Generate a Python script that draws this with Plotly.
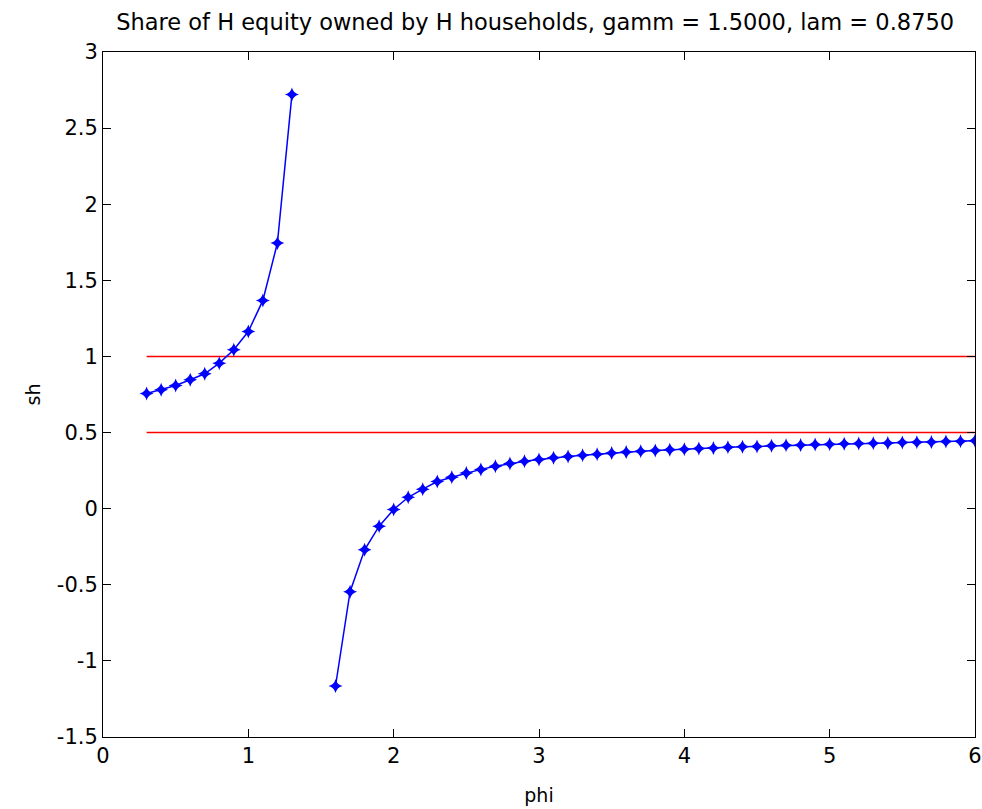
import plotly.graph_objects as go

phi_left = [0.3, 0.4, 0.5, 0.6, 0.7, 0.8, 0.9, 1.0, 1.1, 1.2, 1.3]
sh_left = [0.757, 0.781, 0.809, 0.847, 0.886, 0.956, 1.044, 1.164, 1.368, 1.745, 2.72]

phi_right = [1.6, 1.7, 1.8, 1.9, 2.0, 2.1, 2.2, 2.3, 2.4, 2.5, 2.6, 2.7, 2.8, 2.9,
             3.0, 3.1, 3.2, 3.3, 3.4, 3.5, 3.6, 3.7, 3.8, 3.9, 4.0, 4.1, 4.2, 4.3,
             4.4, 4.5, 4.6, 4.7, 4.8, 4.9, 5.0, 5.1, 5.2, 5.3, 5.4, 5.5, 5.6, 5.7,
             5.8, 5.9, 6.0]
sh_right = [-1.165, -0.545, -0.270, -0.115, -0.005, 0.075, 0.128, 0.178, 0.207, 0.234,
            0.258, 0.278, 0.297, 0.311, 0.323, 0.334, 0.343, 0.351, 0.358, 0.366,
            0.372, 0.377, 0.382, 0.387, 0.391, 0.395, 0.399, 0.403, 0.406, 0.409,
            0.413, 0.416, 0.418, 0.421, 0.423, 0.426, 0.428, 0.430, 0.432, 0.434,
            0.436, 0.438, 0.441, 0.443, 0.446]

ref_x = [0.3, 6.0]
ref_upper = [1.0, 1.0]
ref_lower = [0.5, 0.5]

x_ticks = [0, 1, 2, 3, 4, 5, 6]
y_ticks = [-1.5, -1, -0.5, 0, 0.5, 1, 1.5, 2, 2.5, 3]
y_tick_text = ["-1.5", "-1", "-0.5", "0", "0.5", "1", "1.5", "2", "2.5", "3"]

phi_all = phi_left + [None] + phi_right
sh_all = sh_left + [None] + sh_right

fig = go.Figure()
for yv in (ref_upper, ref_lower):
    fig.add_trace(go.Scatter(x=ref_x, y=yv, mode="lines",
                             line=dict(color="#FF0000", width=1.5),
                             showlegend=False, hoverinfo="skip"))
fig.add_trace(go.Scatter(x=phi_all, y=sh_all, mode="lines+markers",
                         line=dict(color="#0000FF", width=1.5),
                         marker=dict(symbol="star-diamond", size=10, color="#0000FF"),
                         connectgaps=False, showlegend=False))

font_family = "DejaVu Sans, Arial, sans-serif"
fig.update_layout(
    width=982, height=809,
    margin=dict(l=103, r=7, t=52, b=72, autoexpand=False),
    paper_bgcolor="white", plot_bgcolor="white",
    font=dict(family=font_family, size=20, color="black"),
    title=dict(text="Share of H equity owned by H households, gamm = 1.5000, lam = 0.8750",
               x=0.545, xanchor="center", y=0.9727, yanchor="middle",
               font=dict(size=22.5, family=font_family)),
)
axis_common = dict(showgrid=False, zeroline=False, showline=True, linecolor="black",
                   linewidth=1, mirror="ticks", ticks="inside", ticklen=8,
                   tickcolor="black", tickwidth=1, tickfont=dict(size=21),
                   automargin=False)
fig.update_xaxes(range=[0, 6], tickvals=x_ticks, ticktext=[str(v) for v in x_ticks],
                 title=dict(text="phi", standoff=21, font=dict(size=19)), **axis_common)
fig.update_yaxes(range=[-1.5, 3], tickvals=y_ticks, ticktext=y_tick_text,
                 title=dict(text="sh", standoff=11, font=dict(size=19)), **axis_common)

fig.write_html("out.html", config={"displayModeBar": False},
               post_script="document.body.style.margin='0';document.body.style.overflow='hidden';")
